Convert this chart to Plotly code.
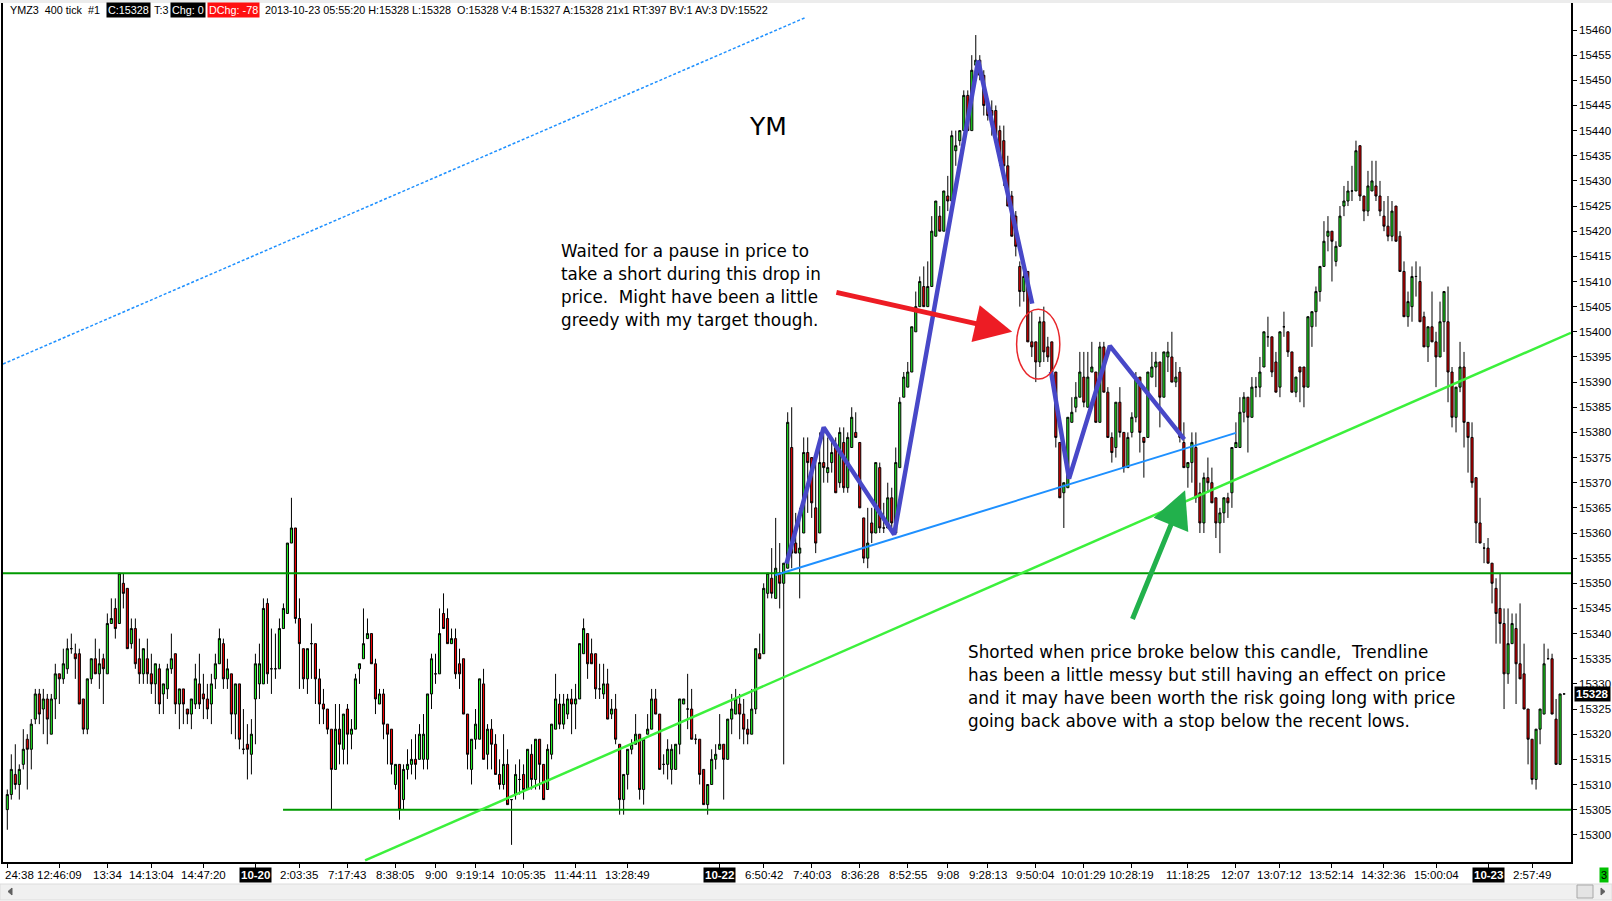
import plotly.graph_objects as go

# ---------------- data ----------------
OPEN = [
    15305,15308,15312,15310,15314,15319,15317,15323,15328,15325,
    15327,15320,15327,15332,15331,15333,15337,15336,15336,15327,
    15321,15331,15335,15332,15335,15332,15342,15345,15342,15350,
    15349,15338,15341,15335,15332,15335,15332,15330,15333,15328,
    15329,15333,15336,15326,15329,15325,15324,15326,15330,15328,
    15327,15326,15331,15334,15338,15331,15332,15324,15330,15317,
    15318,15316,15327,15330,15330,15346,15333,15333,15333,15341,
    15344,15358,15361,15343,15337,15331,15338,15338,15331,15326,
    15325,15321,15313,15321,15317,15325,15320,15321,15333,15335,
    15339,15340,15334,15326,15328,15322,15321,15310,15314,15307,
    15313,15314,15315,15315,15315,15315,15328,15332,15332,15344,
    15343,15338,15339,15334,15335,15324,15313,15319,15319,15330,
    15316,15321,15318,15312,15310,15314,15307,15308,15311,15312,
    15309,15316,15311,15319,15314,15309,15316,15321,15326,15322,
    15324,15327,15326,15327,15336,15340,15336,15336,15329,15328,
    15330,15324,15325,15318,15307,15312,15317,15318,15320,15309,
    15320,15321,15327,15324,15314,15314,15313,15313,15318,15326,
    15325,15325,15319,15319,15313,15306,15310,15315,15317,15318,
    15315,15323,15324,15326,15324,15321,15320,15325,15336,15336,
    15348,15351,15347,15352,15350,15353,15377,15358,15356,15360,
    15376,15375,15365,15360,15374,15372,15374,15377,15370,15378,
    15369,15377,15380,15378,15363,15355,15362,15360,15373,15361,
    15361,15367,15360,15373,15387,15389,15392,15400,15405,15409,
    15405,15409,15419,15423,15420,15427,15426,15436,15438,15440,
    15447,15440,15453,15454,15451,15445,15444,15444,15440,15438,
    15433,15427,15423,15413,15408,15412,15398,15398,15394,15402,
    15397,15398,15392,15378,15368,15369,15382,15385,15387,15391,
    15385,15392,15392,15382,15397,15388,15379,15377,15386,15380,
    15373,15380,15383,15391,15379,15379,15391,15393,15394,15387,
    15395,15395,15390,15392,15378,15373,15374,15377,15368,15362,
    15371,15370,15367,15362,15364,15367,15368,15377,15377,15384,
    15387,15383,15389,15389,15393,15399,15399,15394,15389,15401,
    15400,15396,15388,15393,15393,15389,15401,15404,15408,15413,
    15419,15420,15414,15417,15425,15426,15428,15428,15437,15427,
    15424,15428,15429,15427,15423,15421,15419,15425,15419,15412,
    15403,15405,15411,15410,15403,15397,15401,15398,15395,15402,
    15402,15392,15383,15389,15393,15382,15379,15371,15362,15357,
    15357,15354,15349,15345,15342,15332,15338,15341,15334,15332,
    15325,15319,15311,15321,15324,15335,15335,15323,15314,15328,
]
HIGH = [
    15309,15316,15318,15314,15321,15320,15323,15329,15329,15329,
    15328,15328,15334,15332,15337,15339,15340,15338,15337,15327,
    15331,15335,15339,15337,15336,15344,15347,15347,15352,15352,
    15349,15343,15343,15339,15337,15339,15336,15334,15334,15330,
    15334,15340,15336,15329,15329,15325,15327,15334,15336,15332,
    15330,15332,15336,15341,15339,15335,15332,15330,15330,15325,
    15322,15323,15336,15338,15347,15347,15341,15340,15343,15346,
    15358,15367,15361,15347,15337,15337,15342,15338,15333,15329,
    15325,15321,15326,15326,15324,15326,15323,15332,15334,15345,
    15343,15340,15335,15329,15329,15322,15321,15314,15314,15314,
    15317,15319,15320,15322,15324,15328,15336,15336,15345,15348,
    15345,15341,15341,15337,15335,15324,15319,15325,15331,15333,
    15322,15323,15320,15315,15320,15317,15307,15314,15315,15314,
    15317,15318,15319,15319,15314,15318,15322,15332,15328,15328,
    15328,15329,15330,15338,15343,15340,15339,15336,15334,15334,
    15333,15327,15328,15318,15312,15317,15319,15324,15320,15319,
    15324,15329,15329,15324,15316,15319,15318,15318,15327,15327,
    15332,15329,15320,15319,15313,15310,15317,15318,15324,15318,
    15323,15328,15329,15328,15327,15323,15329,15337,15340,15350,
    15352,15357,15363,15358,15354,15384,15385,15364,15365,15379,
    15379,15375,15375,15380,15381,15379,15379,15379,15381,15381,
    15380,15385,15384,15378,15363,15365,15365,15374,15374,15366,
    15370,15369,15377,15387,15392,15394,15401,15408,15411,15413,
    15414,15423,15426,15425,15428,15431,15440,15440,15440,15448,
    15448,15455,15459,15455,15452,15446,15446,15445,15441,15441,
    15435,15428,15424,15414,15412,15412,15404,15398,15403,15405,
    15399,15398,15392,15378,15370,15383,15387,15390,15396,15396,
    15396,15398,15392,15398,15398,15389,15380,15386,15389,15380,
    15380,15384,15392,15391,15379,15392,15396,15396,15394,15396,
    15398,15400,15394,15393,15382,15374,15380,15380,15370,15372,
    15375,15373,15367,15365,15367,15368,15377,15382,15387,15388,
    15387,15391,15391,15395,15400,15403,15399,15396,15400,15404,
    15400,15396,15391,15393,15393,15403,15404,15409,15413,15422,
    15423,15420,15418,15425,15429,15430,15433,15438,15437,15427,
    15432,15434,15434,15430,15426,15427,15426,15425,15420,15414,
    15408,15413,15414,15413,15404,15401,15408,15400,15406,15408,
    15409,15393,15389,15398,15396,15382,15382,15371,15367,15358,
    15359,15354,15351,15352,15345,15345,15344,15344,15346,15338,
    15325,15319,15321,15325,15338,15337,15336,15327,15328,15328,
]
LOW = [
    15301,15307,15309,15307,15313,15309,15313,15322,15322,15320,
    15318,15320,15323,15326,15330,15332,15336,15331,15326,15320,
    15320,15330,15332,15329,15326,15332,15342,15339,15342,15345,
    15337,15337,15333,15330,15330,15330,15328,15326,15324,15324,
    15327,15332,15324,15321,15322,15322,15321,15325,15325,15323,
    15323,15322,15329,15334,15329,15329,15320,15319,15317,15316,
    15311,15312,15318,15327,15330,15330,15328,15331,15333,15341,
    15344,15358,15342,15329,15329,15328,15331,15326,15322,15322,
    15320,15305,15313,15314,15314,15314,15317,15321,15330,15335,
    15339,15334,15324,15326,15319,15314,15312,15309,15303,15305,
    15311,15312,15311,15315,15313,15313,15325,15330,15332,15341,
    15338,15338,15331,15329,15324,15313,15310,15317,15319,15315,
    15313,15313,15312,15309,15309,15306,15298,15307,15308,15307,
    15309,15309,15309,15309,15307,15309,15315,15321,15321,15321,
    15323,15320,15321,15327,15336,15331,15334,15327,15327,15327,
    15323,15323,15318,15304,15304,15309,15316,15318,15307,15306,
    15320,15321,15324,15313,15312,15311,15310,15313,15316,15326,
    15321,15319,15318,15310,15306,15304,15310,15313,15317,15307,
    15315,15320,15324,15319,15318,15318,15320,15324,15335,15336,
    15347,15347,15347,15345,15314,15353,15353,15356,15347,15360,
    15364,15363,15356,15360,15370,15370,15372,15368,15369,15368,
    15368,15377,15379,15365,15354,15353,15358,15360,15360,15360,
    15361,15360,15360,15373,15387,15389,15392,15400,15405,15405,
    15405,15409,15419,15420,15420,15424,15426,15433,15437,15440,
    15440,15440,15453,15450,15443,15442,15439,15439,15433,15429,
    15425,15419,15415,15405,15406,15398,15395,15390,15393,15394,
    15394,15392,15377,15367,15361,15369,15382,15384,15387,15385,
    15385,15392,15382,15382,15388,15379,15374,15375,15379,15372,
    15373,15379,15382,15376,15371,15379,15391,15389,15381,15387,
    15392,15390,15389,15378,15373,15369,15370,15366,15360,15360,
    15368,15366,15359,15356,15362,15363,15365,15377,15377,15382,
    15376,15383,15387,15387,15393,15397,15391,15388,15387,15399,
    15395,15388,15387,15386,15385,15389,15397,15401,15406,15413,
    15416,15410,15413,15417,15423,15425,15426,15428,15426,15422,
    15423,15428,15426,15423,15420,15418,15418,15418,15412,15403,
    15401,15402,15407,15402,15397,15394,15398,15389,15395,15396,
    15386,15381,15380,15388,15377,15372,15369,15358,15358,15354,
    15354,15346,15338,15338,15325,15330,15338,15326,15331,15325,
    15314,15310,15309,15318,15324,15335,15324,15314,15314,15328,
]
CLOSE = [
    15308,15313,15310,15313,15317,15317,15322,15328,15324,15327,
    15323,15327,15332,15331,15334,15337,15337,15335,15326,15321,
    15331,15335,15332,15334,15333,15342,15343,15341,15352,15348,
    15337,15341,15334,15332,15337,15332,15330,15334,15326,15330,
    15333,15335,15326,15329,15326,15324,15327,15331,15326,15327,
    15325,15330,15334,15339,15331,15333,15324,15330,15319,15317,
    15317,15320,15334,15334,15345,15332,15333,15333,15341,15345,
    15358,15361,15343,15338,15331,15337,15338,15331,15326,15325,
    15321,15313,15321,15318,15324,15320,15321,15331,15334,15338,
    15340,15334,15327,15328,15322,15320,15314,15314,15305,15313,
    15314,15315,15314,15320,15320,15328,15335,15332,15340,15341,
    15338,15339,15332,15332,15324,15316,15319,15322,15331,15315,
    15321,15318,15312,15310,15314,15306,15307,15312,15311,15309,
    15317,15311,15319,15314,15307,15317,15322,15327,15322,15326,
    15327,15326,15327,15338,15341,15334,15334,15329,15329,15330,
    15323,15325,15319,15307,15312,15317,15318,15320,15309,15319,
    15321,15327,15324,15313,15314,15317,15317,15318,15327,15327,
    15325,15319,15319,15312,15306,15310,15315,15316,15318,15315,
    15323,15325,15327,15324,15321,15320,15325,15337,15335,15349,
    15352,15348,15353,15350,15354,15382,15356,15356,15357,15376,
    15374,15366,15358,15374,15373,15373,15376,15368,15380,15369,
    15379,15383,15379,15365,15355,15358,15360,15374,15361,15361,
    15367,15362,15374,15386,15391,15392,15401,15405,15410,15405,
    15409,15420,15426,15420,15428,15426,15439,15437,15440,15447,
    15440,15452,15454,15451,15445,15443,15443,15439,15434,15433,
    15425,15419,15417,15408,15411,15398,15397,15394,15402,15396,
    15395,15392,15379,15367,15370,15383,15384,15387,15392,15386,
    15391,15393,15382,15397,15388,15379,15376,15386,15380,15373,
    15379,15383,15391,15380,15378,15392,15393,15394,15387,15396,
    15396,15390,15391,15379,15373,15374,15378,15367,15362,15371,
    15370,15366,15362,15364,15367,15366,15377,15378,15384,15387,
    15383,15389,15389,15392,15400,15399,15392,15388,15400,15401,
    15396,15388,15391,15392,15389,15403,15404,15408,15413,15418,
    15420,15418,15417,15423,15426,15428,15428,15436,15427,15424,
    15429,15430,15427,15424,15421,15419,15424,15418,15412,15403,
    15406,15411,15411,15402,15397,15401,15398,15395,15402,15408,
    15392,15383,15389,15393,15382,15379,15370,15362,15358,15357,
    15354,15350,15344,15342,15332,15338,15342,15334,15331,15325,
    15319,15311,15321,15325,15334,15335,15324,15314,15328,15328,
]
BAR_INDEX = list(range(len(CLOSE)))

TICK_POS = [0, 13, 25, 36, 49, 62, 73, 85, 97, 107, 117, 129, 142, 155, 178, 189,
            201, 213, 225, 235, 245, 257, 269, 281, 295, 307, 318, 331, 344, 357, 370, 381]
TICK_TEXT = ["24:38", "12:46:09", "13:34", "14:13:04", "14:47:20", "10-20", "2:03:35",
             "7:17:43", "8:38:05", "9:00", "9:19:14", "10:05:35", "11:44:11", "13:28:49",
             "10-22", "6:50:42", "7:40:03", "8:36:28", "8:52:55", "9:08", "9:28:13",
             "9:50:04", "10:01:29", "10:28:19", "11:18:25", "12:07", "13:07:12",
             "13:52:14", "14:32:36", "15:00:04", "10-23", "2:57:49"]
DATE_LABELS = ["10-20", "10-22", "10-23"]
PRICE_TICKS = list(range(15300, 15461, 5))
LAST_PRICE = 15328

# drawn lines (bar index, price)
LEVEL_HIGH = 15352
LEVEL_LOW = 15305
LEVEL_LOW_START = 68.9
DASH_X, DASH_Y = [-1.07, 199.5], [15393.6, 15462.5]
GREEN_TL_X, GREEN_TL_Y = [89.4, 390.7], [15294.9, 15399.8]
BLUE_TL_X, BLUE_TL_Y = [191.8, 307.0], [15351.6, 15379.9]
ZIG_A_X = [194.7, 204.0, 221.6, 242.6, 256.1]
ZIG_A_Y = [15353.9, 15381.0, 15359.7, 15453.9, 15405.6]
ZIG_B_X = [260.8, 265.3, 275.5, 294.1]
ZIG_B_Y = [15392.1, 15370.8, 15397.2, 15378.6]
CIRCLE_X, CIRCLE_Y = [252.2, 263.0], [15390.6, 15404.5]
RED_ARROW = [206.8, 15407.9, 251.1, 15400.0]      # tail x, tail y, tip x, tip y
GREEN_ARROW = [281.0, 15342.6, 294.3, 15368.5]

NOTE1 = ["Waited for a pause in price to",
         "take a short during this drop in",
         "price.\u00a0 Might have been a little",
         "greedy with my target though."]
NOTE2 = ["Shorted when price broke below this candle,\u00a0 Trendline",
         "has been a little messy but still having an effect on price",
         "and it may have been worth the risk going long with price",
         "going back above with a stop below the recent lows."]

# ---------------- figure ----------------
W, H = 1612, 901
ML, MR, MT, MB = 3, 41, 3, 39
PW, PH = W - ML - MR, H - MT - MB


def px(x):
    return (x - ML) / PW


def py(y):
    return (H - MB - y) / PH


NARROW = "Liberation Sans, Arial, sans-serif"
TEXTF = "DejaVu Sans, Verdana, sans-serif"

fig = go.Figure()
fig.add_trace(go.Candlestick(
    x=BAR_INDEX, open=OPEN, high=HIGH, low=LOW, close=CLOSE,
    increasing=dict(fillcolor="#22ee22", line=dict(color="black", width=1)),
    decreasing=dict(fillcolor="#ee0000", line=dict(color="black", width=1)),
    whiskerwidth=0, hoverinfo="skip", showlegend=False,
))

xr = [(3.0 - 7.3) / 4.002, (1571 - 7.3) / 4.002]


def line(x, y, color, width, dash="solid"):
    fig.add_trace(go.Scatter(x=x, y=y, mode="lines", hoverinfo="skip", showlegend=False,
                             line=dict(color=color, width=width, dash=dash)))


line([xr[0], xr[1]], [LEVEL_HIGH, LEVEL_HIGH], "#009a00", 2)
line([LEVEL_LOW_START, xr[1]], [LEVEL_LOW, LEVEL_LOW], "#009a00", 2)
line(DASH_X, DASH_Y, "#1e90ff", 1.5, "3px,2px")
line(GREEN_TL_X, GREEN_TL_Y, "#3cf03c", 2.5)
line(BLUE_TL_X, BLUE_TL_Y, "#1e90ff", 2)
line(ZIG_A_X, ZIG_A_Y, "#4848c8", 4.5)
line(ZIG_B_X, ZIG_B_Y, "#4848c8", 4.5)

shapes = [
    dict(type="circle", xref="x", yref="y", x0=CIRCLE_X[0], x1=CIRCLE_X[1],
         y0=CIRCLE_Y[0], y1=CIRCLE_Y[1], line=dict(color="#e8262a", width=1.5)),
    # top grey strip
    dict(type="rect", xref="paper", yref="paper", x0=px(0), x1=px(1612), y0=py(3), y1=py(0),
         fillcolor="#ececec", line=dict(width=0), layer="below"),
    # scrollbar
    dict(type="rect", xref="paper", yref="paper", x0=px(0), x1=px(1612), y0=py(884), y1=py(900),
         fillcolor="#f0f0f0", line=dict(color="#dcdcdc", width=1), layer="below"),
    dict(type="rect", xref="paper", yref="paper", x0=px(1577), x1=px(1593), y0=py(885), y1=py(898),
         fillcolor="#e4e4e4", line=dict(color="#a8a8a8", width=1)),
    dict(type="path", xref="paper", yref="paper",
         path=f"M {px(1601)} {py(888)} L {px(1605)} {py(891.5)} L {px(1601)} {py(895)} Z",
         fillcolor="#606060", line=dict(color="#606060", width=1)),
    dict(type="path", xref="paper", yref="paper",
         path=f"M {px(12)} {py(888)} L {px(8)} {py(891.5)} L {px(12)} {py(895)} Z",
         fillcolor="#606060", line=dict(color="#606060", width=1)),
]

ann = []
# arrows
for arr, col in ((RED_ARROW, "#ed1c24"), (GREEN_ARROW, "#22b14c")):
    ann.append(dict(x=arr[2], y=arr[3], ax=arr[0], ay=arr[1], xref="x", yref="y",
                    axref="x", ayref="y", text="", showarrow=True, arrowhead=2,
                    arrowsize=1.5, arrowwidth=5, arrowcolor=col))


def label(x, y, text, size, family, color="black", xanchor="left", bg=None, xref="paper",
          yref="paper"):
    d = dict(x=x, y=y, xref=xref, yref=yref, text=text, xanchor=xanchor, yanchor="middle",
             showarrow=False, borderpad=1, font=dict(family=family, size=size, color=color))
    if bg:
        d["bgcolor"] = bg
    ann.append(d)


label(px(768), py(126.6), "YM", 25, TEXTF, xanchor="center")
for i, t in enumerate(NOTE1):
    label(px(559), py(251 + 23 * i), t, 16.8, TEXTF)
for i, t in enumerate(NOTE2):
    label(px(966), py(652 + 23 * i), t, 16.8, TEXTF)

# header
HEADER = [("YMZ3\u00a0 400 tick\u00a0 #1", 8, None, "black"),
          ("C:15328", 106, "black", "white"),
          ("T:3", 152, None, "black"),
          ("Chg: 0", 170, "black", "white"),
          ("DChg: -78", 207, "#ff1010", "white"),
          ("2013-10-23 05:55:20 H:15328 L:15328\u00a0 O:15328 V:4 B:15327 A:15328 21x1 RT:397 BV:1 AV:3 DV:15522",
           263, None, "black")]
for t, x, bg, fc in HEADER:
    label(px(x), py(9.5), t, 10.8, NARROW, color=fc, bg=bg)

# x-axis time labels
for i, (pos, t) in enumerate(zip(TICK_POS, TICK_TEXT)):
    if t in DATE_LABELS:
        label(pos, py(875), f"<b>{t}</b>", 11.5, NARROW, color="white", xanchor="center",
              bg="black", xref="x")
    elif i == 0:
        label(px(3), py(875), t, 11.5, NARROW)
    else:
        label(pos, py(875), t, 11.5, NARROW, xanchor="center", xref="x")
# last price marker and status box
label(px(1574), LAST_PRICE, f"<b>{LAST_PRICE}</b>", 11.5, NARROW, color="white", bg="black",
      yref="y")
label(px(1599), py(875), "3", 11, NARROW, bg="#00c000")

fig.update_layout(
    width=W, height=H, margin=dict(l=ML, r=MR, t=MT, b=MB),
    paper_bgcolor="white", plot_bgcolor="white", showlegend=False, hovermode=False,
    boxgap=0.25, shapes=shapes, annotations=ann,
    xaxis=dict(range=xr, tickmode="array", tickvals=TICK_POS, ticktext=[""] * len(TICK_POS),
               tickangle=0, automargin=False,
               ticks="outside", ticklen=4, tickcolor="black", showgrid=False, zeroline=False,
               showline=True, linecolor="black", linewidth=1.5,
               rangeslider=dict(visible=False)),
    yaxis=dict(range=[15294.59, 15465.37], side="right", tickmode="array",
               tickvals=PRICE_TICKS, ticktext=[str(v) for v in PRICE_TICKS],
               automargin=False,
               ticks="outside", ticklen=4, tickcolor="black", showgrid=False, zeroline=False,
               showline=True, linecolor="black", linewidth=1.5, mirror=True,
               tickfont=dict(family=NARROW, size=11.5, color="black")),
)

fig.write_html("out.html", config={"displayModeBar": False},
               post_script="document.body.style.margin='0px';document.body.style.overflow='hidden';")
